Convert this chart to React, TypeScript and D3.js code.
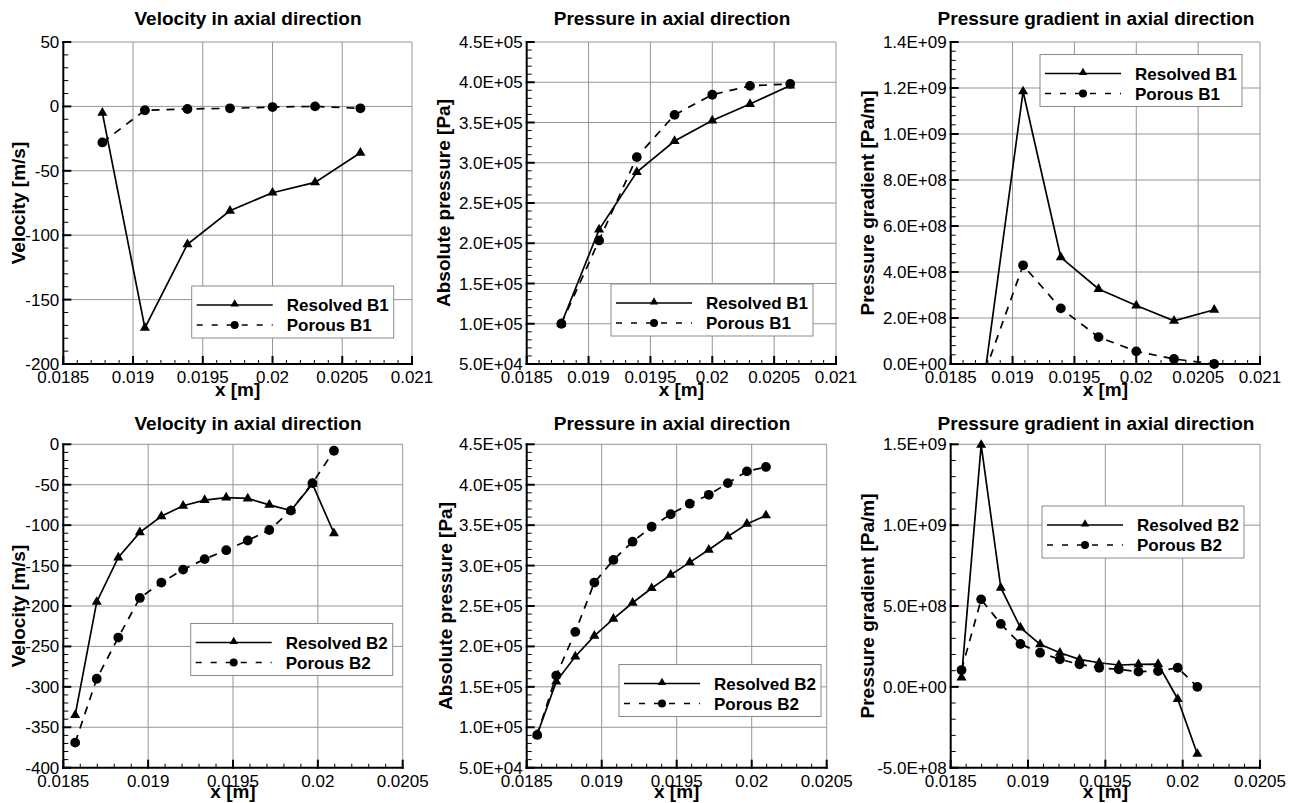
import * as d3 from "d3"
import React, { useRef, useEffect } from "react"

// x positions of the sample points
const xB1 = [0.01878, 0.019085, 0.01939, 0.019695, 0.0200, 0.020305, 0.02063]
const xB2 = [0.01857, 0.018697, 0.018824, 0.018951, 0.019078, 0.019206, 0.019333, 0.01946, 0.019587, 0.019714, 0.019841, 0.019968, 0.020095]

// B1 series
const velResB1 = [-5, -172, -107, -81, -67, -59, -36]
const velPorB1 = [-28, -3, -2, -1.5, -0.5, 0, -1.5]
const presResB1 = [1.0e5, 2.17e5, 2.885e5, 3.27e5, 3.525e5, 3.73e5, 3.96e5]
const presPorB1 = [1.0e5, 2.035e5, 3.07e5, 3.595e5, 3.845e5, 3.955e5, 3.98e5]
const gradResB1 = [-0.03e9, 1.185e9, 0.464e9, 0.326e9, 0.254e9, 0.188e9, 0.236e9]
const gradPorB1 = [-0.03e9, 0.429e9, 0.242e9, 0.117e9, 0.055e9, 0.022e9, 0.0]

// B2 series
const velResB2 = [-335, -195, -140, -109, -89, -76, -69, -66, -67, -75, -82, -49, -110]
const velPorB2 = [-369, -290, -239, -190, -171, -155, -142, -131, -119, -106, -82, -48, -8]
const presResB2 = [0.91e5, 1.565e5, 1.875e5, 2.13e5, 2.34e5, 2.54e5, 2.72e5, 2.885e5, 3.04e5, 3.195e5, 3.36e5, 3.515e5, 3.62e5]
const presPorB2 = [0.905e5, 1.64e5, 2.18e5, 2.79e5, 3.07e5, 3.295e5, 3.48e5, 3.635e5, 3.765e5, 3.875e5, 4.02e5, 4.165e5, 4.22e5]
const gradResB2 = [0.057e9, 1.496e9, 0.613e9, 0.366e9, 0.263e9, 0.211e9, 0.17e9, 0.149e9, 0.135e9, 0.139e9, 0.141e9, -0.075e9, -0.415e9]
const gradPorB2 = [0.104e9, 0.541e9, 0.389e9, 0.265e9, 0.211e9, 0.17e9, 0.139e9, 0.118e9, 0.108e9, 0.094e9, 0.098e9, 0.118e9, 0.0]

// tick values
const xTicksB1 = [0.0185, 0.019, 0.0195, 0.02, 0.0205, 0.021]
const xTicksB2 = [0.0185, 0.019, 0.0195, 0.02, 0.0205]
const velTicksB1 = [-200, -150, -100, -50, 0, 50]
const velTicksB2 = [-400, -350, -300, -250, -200, -150, -100, -50, 0]
const presTicks = [5e4, 1e5, 1.5e5, 2e5, 2.5e5, 3e5, 3.5e5, 4e5, 4.5e5]
const gradTicksB1 = [0, 2e8, 4e8, 6e8, 8e8, 1e9, 1.2e9, 1.4e9]
const gradTicksB2 = [-5e8, 0, 5e8, 1e9, 1.5e9]

const FONT = "'Liberation Sans', Arial, Helvetica, sans-serif"

const fmtX = v => String(+v.toFixed(4))
const fmtInt = v => String(v)
const fmtExp = v => {
    if (v === 0) return "0.0E+00"
    const [m, e] = v.toExponential(1).split("e")
    const n = +e
    return m + "E" + (n < 0 ? "-" : "+") + String(Math.abs(n)).padStart(2, "0")
}

const panels = [
    { title: "Velocity in axial direction", yLabel: "Velocity [m/s]", x: xB1, res: velResB1, por: velPorB1, tag: "B1",
      xTicks: xTicksB1, yTicks: velTicksB1, yFmt: fmtInt, box: [63.3, 42, 412, 364], titleX: 248, titleY: 18, yLabelX: 18, xLabelY: 389, legend: [191.7, 286] },
    { title: "Pressure in axial direction", yLabel: "Absolute pressure [Pa]", x: xB1, res: presResB1, por: presPorB1, tag: "B1",
      xTicks: xTicksB1, yTicks: presTicks, yFmt: fmtExp, box: [526.7, 42, 836, 364], titleX: 672, titleY: 18, yLabelX: 443, xLabelY: 389, legend: [611, 284] },
    { title: "Pressure gradient in axial direction", yLabel: "Pressure gradient [Pa/m]", x: xB1, res: gradResB1, por: gradPorB1, tag: "B1",
      xTicks: xTicksB1, yTicks: gradTicksB1, yFmt: fmtExp, box: [950.7, 42, 1260, 364], titleX: 1096, titleY: 18, yLabelX: 867, xLabelY: 389, legend: [1040, 54.5] },
    { title: "Velocity in axial direction", yLabel: "Velocity [m/s]", x: xB2, res: velResB2, por: velPorB2, tag: "B2",
      xTicks: xTicksB2, yTicks: velTicksB2, yFmt: fmtInt, box: [63.3, 444.3, 402.7, 767.7], titleX: 248, titleY: 423, yLabelX: 18, xLabelY: 791, legend: [190.7, 623.5] },
    { title: "Pressure in axial direction", yLabel: "Absolute pressure [Pa]", x: xB2, res: presResB2, por: presPorB2, tag: "B2",
      xTicks: xTicksB2, yTicks: presTicks, yFmt: fmtExp, box: [526.7, 444.3, 826.7, 767.7], titleX: 672, titleY: 423, yLabelX: 445, xLabelY: 791, legend: [619, 664.5] },
    { title: "Pressure gradient in axial direction", yLabel: "Pressure gradient [Pa/m]", x: xB2, res: gradResB2, por: gradPorB2, tag: "B2",
      xTicks: xTicksB2, yTicks: gradTicksB2, yFmt: fmtExp, box: [950.7, 444.3, 1260, 767.7], titleX: 1096, titleY: 423, yLabelX: 867, xLabelY: 791, legend: [1042, 506] },
]

// 4 minor ticks between each pair of majors
const minors = ticks => {
    const out = []
    for (let i = 0; i < ticks.length - 1; i++)
        for (let k = 1; k < 5; k++) out.push(ticks[i] + (ticks[i + 1] - ticks[i]) * k / 5)
    return out
}

const triangle = d3.symbol(d3.symbolTriangle, 44)
const triangleSmall = d3.symbol(d3.symbolTriangle, 30)

function drawPanel(svg, p, idx) {
    const [l, t, r, b] = p.box
    const x = d3.scaleLinear().domain([p.xTicks[0], p.xTicks[p.xTicks.length - 1]]).range([l, r])
    const y = d3.scaleLinear().domain([p.yTicks[0], p.yTicks[p.yTicks.length - 1]]).range([b, t])
    const g = svg.append("g").attr("font-family", FONT)

    // grid
    g.selectAll(".gx").data(p.xTicks.slice(1)).enter().append("line")
        .attr("x1", d => x(d)).attr("x2", d => x(d)).attr("y1", t).attr("y2", b)
        .attr("stroke", "#959595").attr("stroke-width", 1)
    g.selectAll(".gy").data(p.yTicks.slice(1)).enter().append("line")
        .attr("x1", l).attr("x2", r).attr("y1", d => y(d)).attr("y2", d => y(d))
        .attr("stroke", "#959595").attr("stroke-width", 1)

    // minor ticks
    g.selectAll(".mx").data(minors(p.xTicks)).enter().append("line")
        .attr("x1", d => x(d)).attr("x2", d => x(d)).attr("y1", b).attr("y2", b - 4)
        .attr("stroke", "#000").attr("stroke-width", 1)
    g.selectAll(".my").data(minors(p.yTicks)).enter().append("line")
        .attr("x1", l).attr("x2", l + 5).attr("y1", d => y(d)).attr("y2", d => y(d))
        .attr("stroke", "#000").attr("stroke-width", 1)

    // major ticks
    g.selectAll(".tx").data(p.xTicks).enter().append("line")
        .attr("x1", d => x(d)).attr("x2", d => x(d)).attr("y1", b + 1).attr("y2", b - 8)
        .attr("stroke", "#000").attr("stroke-width", 2)
    g.selectAll(".ty").data(p.yTicks).enter().append("line")
        .attr("x1", l - 1).attr("x2", l + 8).attr("y1", d => y(d)).attr("y2", d => y(d))
        .attr("stroke", "#000").attr("stroke-width", 2)

    // axis lines
    g.append("line").attr("x1", l).attr("x2", l).attr("y1", t - 1).attr("y2", b + 1)
        .attr("stroke", "#000").attr("stroke-width", 2)
    g.append("line").attr("x1", l - 1).attr("x2", r + 1).attr("y1", b).attr("y2", b)
        .attr("stroke", "#000").attr("stroke-width", 2)

    // tick labels
    g.selectAll(".lx").data(p.xTicks).enter().append("text")
        .attr("x", d => x(d)).attr("y", b + 19)
        .attr("text-anchor", "middle").attr("font-size", "17px")
        .text(d => fmtX(d))
    g.selectAll(".ly").data(p.yTicks).enter().append("text")
        .attr("x", l - 4).attr("y", d => y(d) + 6)
        .attr("text-anchor", "end").attr("font-size", "17px")
        .text(d => p.yFmt(d))

    // data
    const clipId = "clip" + idx
    g.append("clipPath").attr("id", clipId).append("rect")
        .attr("x", l).attr("y", t - 6).attr("width", r - l + 6).attr("height", b - t + 6)
    const line = d3.line().x(d => x(d[0])).y(d => y(d[1]))
    const resPts = p.x.map((v, i) => [v, p.res[i]])
    const porPts = p.x.map((v, i) => [v, p.por[i]])
    const [ymin] = y.domain()

    g.append("path").attr("d", line(porPts)).attr("clip-path", `url(#${clipId})`)
        .attr("fill", "none").attr("stroke", "#000").attr("stroke-width", 1.7).attr("stroke-dasharray", "8,7")
    g.append("path").attr("d", line(resPts)).attr("clip-path", `url(#${clipId})`)
        .attr("fill", "none").attr("stroke", "#000").attr("stroke-width", 1.7)

    g.selectAll(".pc").data(porPts.filter(d => d[1] >= ymin)).enter().append("circle")
        .attr("cx", d => x(d[0])).attr("cy", d => y(d[1])).attr("r", 4.9).attr("fill", "#000")
    g.selectAll(".pt").data(resPts.filter(d => d[1] >= ymin)).enter().append("path")
        .attr("d", triangle).attr("transform", d => `translate(${x(d[0])},${y(d[1])})`).attr("fill", "#000")

    // legend
    const [lx, ly] = p.legend
    const lg = g.append("g").attr("transform", `translate(${lx},${ly})`)
    lg.append("rect").attr("width", 202).attr("height", 52)
        .attr("fill", "#fff").attr("stroke", "#8a8a8a").attr("stroke-width", 1)
    lg.append("line").attr("x1", 5).attr("x2", 81).attr("y1", 19).attr("y2", 19)
        .attr("stroke", "#000").attr("stroke-width", 1.7)
    lg.append("path").attr("d", triangleSmall).attr("transform", "translate(43,18)").attr("fill", "#000")
    lg.append("line").attr("x1", 5).attr("x2", 81).attr("y1", 39).attr("y2", 39)
        .attr("stroke", "#000").attr("stroke-width", 1.7).attr("stroke-dasharray", "6,9")
    lg.append("circle").attr("cx", 43).attr("cy", 39).attr("r", 4).attr("fill", "#000")
    lg.append("text").attr("x", 95).attr("y", 25).attr("font-size", "17px").attr("font-weight", "bold")
        .text("Resolved " + p.tag)
    lg.append("text").attr("x", 95).attr("y", 45).attr("font-size", "17px").attr("font-weight", "bold")
        .text("Porous " + p.tag)

    // title and axis labels
    g.append("text").attr("x", p.titleX).attr("y", p.titleY).attr("dominant-baseline", "central")
        .attr("text-anchor", "middle").attr("font-size", "19px").attr("font-weight", "bold")
        .text(p.title)
    g.append("text").attr("x", (l + r) / 2).attr("y", p.xLabelY).attr("dominant-baseline", "central")
        .attr("text-anchor", "middle").attr("font-size", "19px").attr("font-weight", "bold")
        .text("x [m]")
    g.append("text").attr("transform", `translate(${p.yLabelX},${(t + b) / 2}) rotate(-90)`)
        .attr("dominant-baseline", "central")
        .attr("text-anchor", "middle").attr("font-size", "19px").attr("font-weight", "bold")
        .text(p.yLabel)
}

export default function App() {
    const ref = useRef(null)

    useEffect(() => {
        const svg = d3.select(ref.current)
        svg.selectAll("*").remove()
        panels.forEach((p, i) => drawPanel(svg, p, i))
    }, [])

    return (
        <svg ref={ref} width={1295} height={803}
            style={{ position: "absolute", left: 0, top: 0, background: "#fff" }}>
        </svg>
    )
}
